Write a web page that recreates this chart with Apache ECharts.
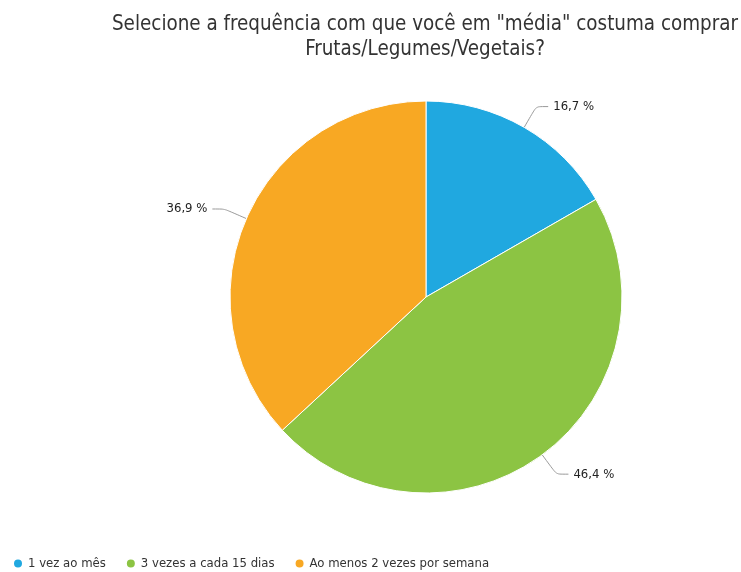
<!DOCTYPE html>
<html>
<head>
<meta charset="utf-8">
<script src="https://cdn.jsdelivr.net/npm/echarts@6/dist/echarts.min.js"></script>
<style>
  html, body { margin: 0; padding: 0; background: #fff; }
  #chart { width: 741px; height: 572px; }
</style>
</head>
<body>
<div id="chart"></div>
<script>
// Shopping frequency for fruits and vegetables (percent of respondents)
const categories = ['1 vez ao mês', '3 vezes a cada 15 dias', 'Ao menos 2 vezes por semana'];
const shares = [16.7, 46.4, 36.9];
const colors = ['#20a8e0', '#8cc443', '#f8a823'];

const chart = echarts.init(document.getElementById('chart'));
chart.setOption({
  animation: false,
  color: colors,
  title: {
    text: 'Selecione a frequência com que você em "média" costuma comprar\nFrutas/Legumes/Vegetais?',
    left: 420,
    textAlign: 'center',
    top: 7,
    textStyle: {
      fontFamily: 'DejaVu Sans Condensed',
      fontWeight: 'normal',
      fontSize: 20.4,
      lineHeight: 25,
      color: '#333'
    }
  },
  legend: {
    left: 7,
    top: 552,
    icon: 'circle',
    itemWidth: 10,
    itemHeight: 10,
    itemGap: 19,
    textStyle: { fontFamily: 'DejaVu Sans Condensed', fontSize: 13, color: '#333' },
    data: categories
  },
  series: [{
    type: 'pie',
    center: [426, 297],
    radius: 196,
    startAngle: 90,
    clockwise: true,
    data: categories.map((name, i) => ({ name, value: shares[i] })),
    itemStyle: { borderColor: '#fff', borderWidth: 1 },
    label: {
      formatter: p => p.value.toFixed(1).replace('.', ',') + ' %',
      fontFamily: 'DejaVu Sans Condensed',
      fontSize: 13,
      color: '#222'
    },
    labelLine: {
      length: 24,
      length2: 12,
      smooth: 0.2,
      lineStyle: { color: '#999', width: 1 }
    }
  }]
});
</script>
</body>
</html>
